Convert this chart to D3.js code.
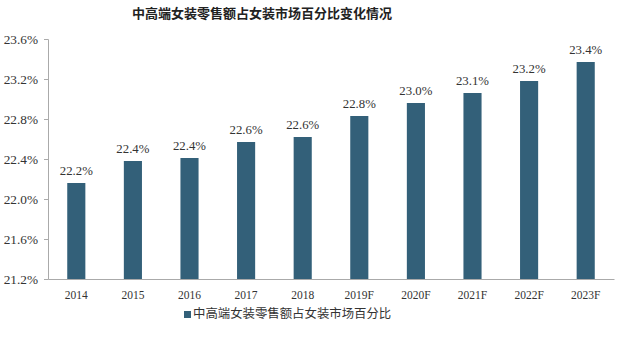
<!DOCTYPE html>
<html><head><meta charset="utf-8">
<script src="https://cdn.jsdelivr.net/npm/d3@7"></script>
<style>body{margin:0;background:#fff}</style>
</head><body>
<svg id="c" width="622" height="337"></svg>
<script>
const categories = ["2014","2015","2016","2017","2018","2019F","2020F","2021F","2022F","2023F"];
const values = [22.16,22.38,22.41,22.57,22.62,22.83,22.96,23.06,23.18,23.37];
const valueLabels = ["22.2%","22.4%","22.4%","22.6%","22.6%","22.8%","23.0%","23.1%","23.2%","23.4%"];
const yTicks = [21.2,21.6,22.0,22.4,22.8,23.2,23.6];
const title = "中高端女装零售额占女装市场百分比变化情况";
const seriesName = "中高端女装零售额占女装市场百分比";

const svg = d3.select("#c");
const m = {l:48, r:8, t:39, b:58};
const W = 622, H = 337;
const x = d3.scaleBand().domain(categories).range([m.l, W - m.r]).paddingInner(0.68).paddingOuter(0.34);
const y = d3.scaleLinear().domain([21.2, 23.6]).range([H - m.b, m.t]);
const serif = "'Liberation Serif','DejaVu Serif',serif";
const color = "#336079";

svg.append("text").attr("x", 262).attr("y", 18).attr("text-anchor","middle")
  .attr("font-family","'Noto Sans CJK SC',sans-serif").attr("font-weight","bold")
  .attr("font-size",13).attr("fill","#222").text(title);

const ya = svg.append("g").attr("transform",`translate(${m.l},0)`)
  .call(d3.axisLeft(y).tickValues(yTicks).tickFormat(d => d.toFixed(1) + "%").tickSize(4).tickPadding(6));
ya.select(".domain").attr("stroke","#aaa");
ya.selectAll(".tick line").attr("stroke","#aaa");
ya.selectAll("text").attr("font-family",serif).attr("font-size",13.3).attr("fill","#333");

const xa = svg.append("g").attr("transform",`translate(0,${H - m.b})`)
  .call(d3.axisBottom(x).tickSize(0).tickPadding(12).tickSizeOuter(0));
xa.select(".domain").attr("stroke","#aaa");
xa.selectAll("text").attr("font-family",serif).attr("font-size",11.5).attr("fill","#333");

svg.selectAll("rect.bar").data(values).enter().append("rect").attr("class","bar")
  .attr("x",(d,i)=>x(categories[i])).attr("width",x.bandwidth())
  .attr("y",d=>y(d)).attr("height",d=>y(21.2)-y(d)).attr("fill",color);

svg.selectAll("text.lbl").data(values).enter().append("text").attr("class","lbl")
  .attr("x",(d,i)=>x(categories[i]) + x.bandwidth()/2).attr("y",d=>y(d)-8)
  .attr("text-anchor","middle").attr("font-family",serif).attr("font-size",12.8).attr("fill","#333")
  .text((d,i)=>valueLabels[i]);

const lg = svg.append("g").attr("transform","translate(184,318)");
lg.append("rect").attr("x",0).attr("y",-7).attr("width",7).attr("height",7).attr("fill",color);
lg.append("text").attr("x",9).attr("y",0).attr("font-family","'Noto Sans CJK SC',sans-serif")
  .attr("font-size",12.4).attr("fill","#333").text(seriesName);
</script>
</body></html>
